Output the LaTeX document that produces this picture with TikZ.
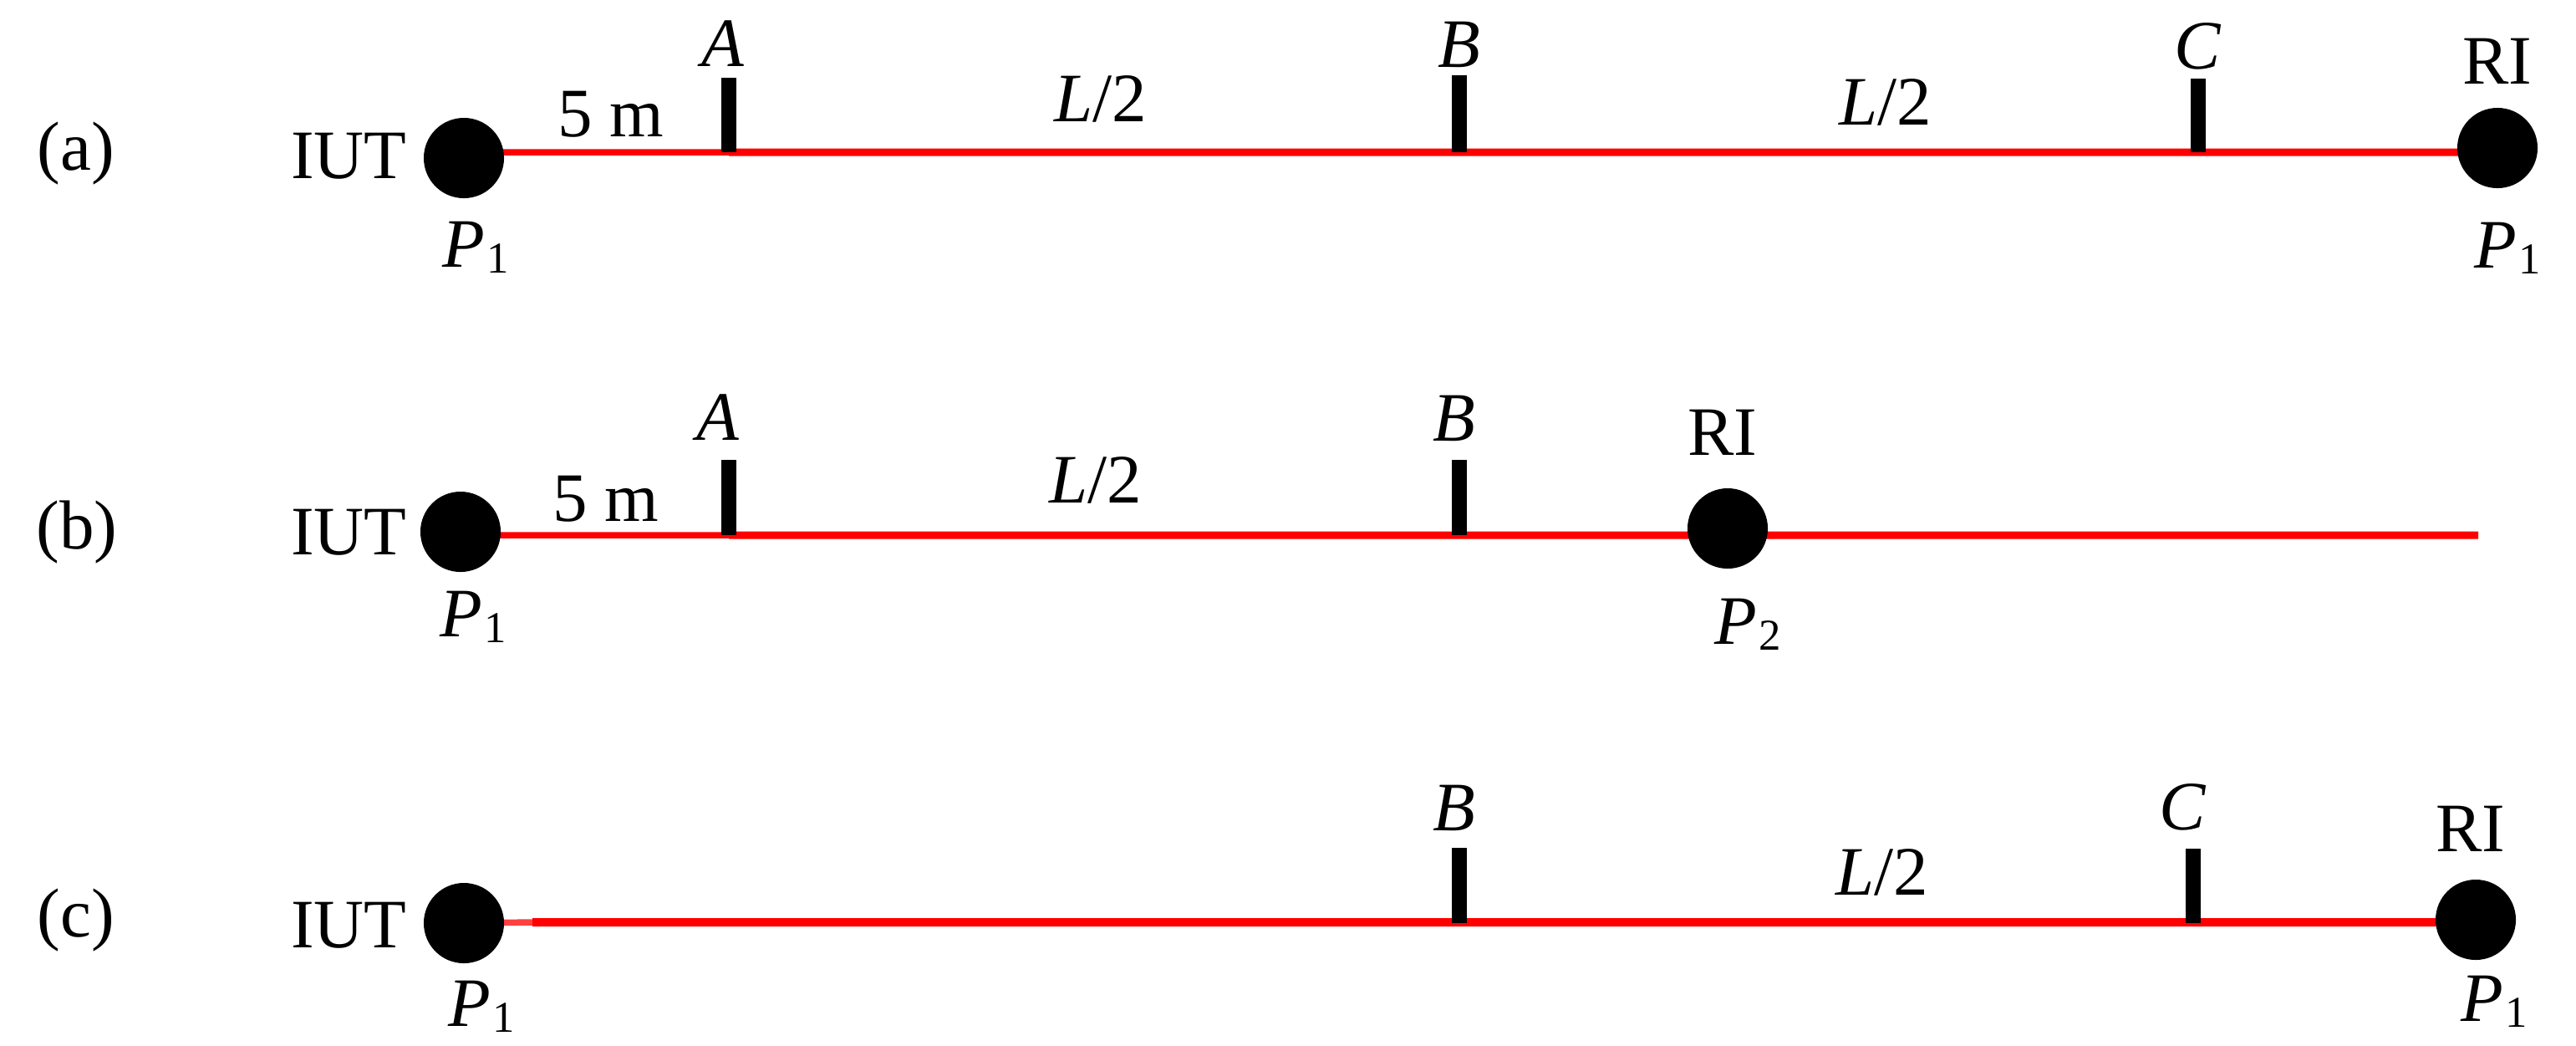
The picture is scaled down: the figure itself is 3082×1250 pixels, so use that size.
\documentclass[tikz,border=0pt]{standalone}
\usepackage{fontspec}
\setmainfont{Liberation Serif}
\usetikzlibrary{backgrounds}
\newcommand{\Psub}[1]{\textit{P}\kern 0.03em\raisebox{-0.095em}{\fontsize{15}{15}\selectfont #1}}
\tikzset{
  x=0.01cm,y=-0.01cm,
  lbl/.style={inner sep=0pt,outer sep=0pt,anchor=base west,font=\fontsize{23.6}{26}\selectfont},
  ctr/.style={lbl,anchor=base},
  dot/.style={circle,fill=black,draw=none,minimum size=0.96cm,inner sep=0pt,outer sep=0pt},
  tick/.style={fill=black,draw=none,minimum width=0.18cm,inner sep=0pt,outer sep=0pt,anchor=south},
  wire/.style={draw=red,line width=0.09cm},
  thinwire/.style={draw=red,line width=0.075cm},
}
\begin{document}
\begin{tikzpicture}
\useasboundingbox (0,0) rectangle (3082,1250);
% ---------- (a)
\node[ctr] (la) at (91,203) {(a)};
\node[lbl] (iuta) at (348,213) {IUT};
\node[dot] (a1) at (555,189) {};
\node[dot] (a2) at (2988,177) {};
\node[tick,minimum height=0.89cm] (ta) at (872,182) {};
\node[tick,minimum height=0.92cm] (tb) at (1746,182) {};
\node[tick,minimum height=0.88cm] (tc) at (2630,182) {};
\node[lbl] (p1a) at (529,319) {\Psub{1}};
\node[lbl] (p2a) at (2960,320) {\Psub{1}};
\node[lbl] (fivea) at (667,163) {5 m};
\node[ctr] (na) at (865,79) {\textit{A}};
\node[ctr] (nb) at (1746,80) {\textit{B}};
\node[ctr] (nc) at (2630,82) {\textit{C}};
\node[ctr] (l1a) at (1317,145) {\textit{L}/2};
\node[ctr] (l2a) at (2256,149) {\textit{L}/2};
\node[ctr] (ria) at (2988,100) {RI};
% ---------- (b)
\node[ctr] (lb) at (92,656) {(b)};
\node[lbl] (iutb) at (348,663) {IUT};
\node[dot] (b1) at (551,636) {};
\node[dot] (b2) at (2067,632) {};
\coordinate (bend) at (2965,640);
\node[tick,minimum height=0.90cm] (tba) at (872,640) {};
\node[tick,minimum height=0.90cm] (tbb) at (1746,640) {};
\node[lbl] (p1b) at (526,761) {\Psub{1}};
\node[lbl] (p2b) at (2051,770) {\Psub{2}};
\node[lbl] (fiveb) at (661,623) {5 m};
\node[ctr] (nab) at (859,526) {\textit{A}};
\node[ctr] (nbb) at (1740,527) {\textit{B}};
\node[ctr] (l1b) at (1311,601) {\textit{L}/2};
\node[ctr] (rib) at (2061,544) {RI};
% ---------- (c)
\node[ctr] (lc) at (91,1120) {(c)};
\node[lbl] (iutc) at (348,1133) {IUT};
\node[dot] (c1) at (555,1104) {};
\node[dot] (c2) at (2962,1100) {};
\coordinate (cstart) at (637,1103);
\node[tick,minimum height=0.90cm] (tcb) at (1746,1104) {};
\node[tick,minimum height=0.89cm] (tcc) at (2624,1104) {};
\node[lbl] (p1c) at (536,1227) {\Psub{1}};
\node[lbl] (p2c) at (2944,1221) {\Psub{1}};
\node[ctr] (nbc) at (1740,993) {\textit{B}};
\node[ctr] (ncc) at (2612,992) {\textit{C}};
\node[ctr] (l2c) at (2252,1070) {\textit{L}/2};
\node[ctr] (ric) at (2956,1018) {RI};
% ---------- wires
\begin{scope}[on background layer]
\draw[thinwire] ([yshift=0.07cm]a1.center) -- (ta.south);
\draw[wire] (ta.south) -- ([yshift=-0.05cm]a2.center);
\draw[thinwire] ([yshift=-0.04cm]b1.center) -- (tba.south);
\draw[wire] (tba.south) -- ([yshift=-0.08cm]b2.center) -- (bend);
\draw[thinwire,draw=red!75] (c1.center) -- (cstart);
\draw[wire,line width=0.1cm] (cstart) -- ([yshift=-0.03cm]c2.center);
\end{scope}
\end{tikzpicture}
\end{document}
